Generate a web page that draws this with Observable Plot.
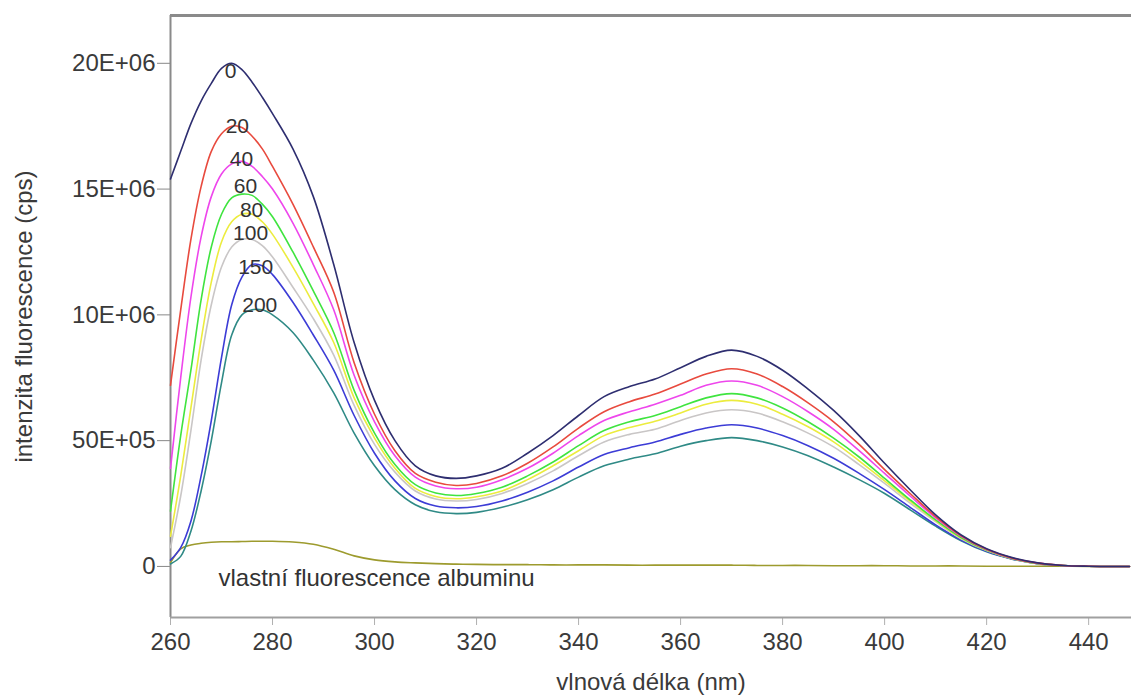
<!DOCTYPE html>
<html>
<head>
<meta charset="utf-8">
<script src="https://cdn.jsdelivr.net/npm/d3@7"></script>
<script src="https://cdn.jsdelivr.net/npm/@observablehq/plot@0.6"></script>
<style>
  html, body { margin: 0; padding: 0; background: #fff; }
</style>
</head>
<body>
<div id="chart"></div>
<script>
// wavelength (nm)
const wavelength = [260,262,264,266,268,270,272,274,276,278,280,
  284,288,292,296,300,304,308,312,316,
  320,325,330,335,340,345,350,355,360,365,370,375,380,385,390,395,400,405,410,415,420,425,430,435,440,
  448];

// intensities in units of 1E+06 cps
const s0 = [15.4,16.5,17.6,18.5,19.2,19.8,20.0,19.75,19.25,18.65,18.0,
  16.6,14.7,12.0,8.9,6.6,5.0,4.0,3.6,3.5,
  3.6,3.9,4.5,5.2,6.0,6.75,7.15,7.45,7.9,8.35,8.6,8.35,7.8,7.05,6.2,5.2,4.1,3.05,2.05,1.25,0.7,0.35,0.14,0.04,0.01,
  0];
const s20 = [7.2,10.2,13.0,15.1,16.5,17.2,17.5,17.45,17.1,16.6,15.9,
  14.4,12.7,10.9,8.1,6.05,4.6,3.7,3.35,3.22,
  3.3,3.6,4.1,4.75,5.5,6.15,6.55,6.85,7.25,7.65,7.86,7.65,7.15,6.5,5.75,4.85,3.85,2.9,1.98,1.22,0.68,0.33,0.13,0.04,0.01,
  0];
const s40 = [3.9,7.5,10.7,13.1,14.7,15.6,16.0,16.1,15.9,15.5,15.0,
  13.65,12.0,10.2,7.6,5.75,4.4,3.55,3.2,3.09,
  3.15,3.45,3.9,4.5,5.2,5.8,6.15,6.45,6.8,7.2,7.37,7.2,6.75,6.15,5.45,4.6,3.7,2.8,1.93,1.2,0.67,0.33,0.13,0.04,0.01,
  0];
const s60 = [2.2,5.2,7.8,10.6,12.7,14.0,14.65,14.8,14.75,14.4,13.9,
  12.5,10.95,9.3,7.0,5.3,4.05,3.25,2.92,2.82,
  2.9,3.15,3.6,4.15,4.8,5.4,5.75,6.0,6.35,6.7,6.87,6.7,6.3,5.75,5.1,4.35,3.5,2.65,1.85,1.15,0.65,0.32,0.12,0.04,0.01,
  0];
const s80 = [1.2,3.6,6.3,9.0,11.3,12.9,13.7,14.0,14.0,13.7,13.2,
  11.9,10.45,8.9,6.7,5.1,3.9,3.1,2.78,2.69,
  2.77,3.0,3.45,4.0,4.6,5.2,5.52,5.77,6.1,6.45,6.6,6.45,6.05,5.55,4.95,4.2,3.4,2.6,1.82,1.13,0.64,0.32,0.12,0.04,0.01,
  0];
const s100 = [0.75,2.8,5.4,8.2,10.4,11.9,12.7,13.0,13.0,12.75,12.3,
  11.1,9.85,8.4,6.4,4.85,3.75,3.0,2.68,2.6,
  2.66,2.9,3.3,3.8,4.4,4.95,5.25,5.45,5.8,6.1,6.23,6.1,5.75,5.3,4.75,4.05,3.3,2.52,1.78,1.1,0.63,0.31,0.12,0.04,0.01,
  0];
const s150 = [0.25,0.75,1.8,3.6,5.8,8.3,10.4,11.5,12.0,11.95,11.6,
  10.5,9.2,7.8,6.0,4.5,3.4,2.7,2.4,2.33,
  2.38,2.6,2.95,3.4,3.95,4.45,4.72,4.95,5.25,5.5,5.63,5.5,5.2,4.8,4.3,3.7,3.05,2.35,1.65,1.05,0.6,0.3,0.11,0.04,0.01,
  0];
const s200 = [0.1,0.4,1.4,3.0,5.0,7.3,9.2,10.0,10.2,10.2,10.0,
  9.3,8.2,6.9,5.3,4.0,3.05,2.45,2.17,2.1,
  2.15,2.35,2.65,3.05,3.55,4.0,4.27,4.48,4.78,5.0,5.12,5.0,4.75,4.4,3.95,3.45,2.9,2.25,1.6,1.02,0.58,0.29,0.11,0.04,0.01,
  0];
const albumin = [0.15,0.7,0.85,0.92,0.96,0.98,0.98,0.99,1.0,1.0,1.0,
  0.97,0.88,0.68,0.42,0.26,0.18,0.14,0.11,0.09,
  0.08,0.07,0.07,0.06,0.06,0.06,0.05,0.05,0.05,0.05,0.05,0.04,0.04,0.04,0.03,0.03,0.03,0.02,0.02,0.02,0.01,0.01,0.01,0.01,0.0,
  0];

const seriesNames = ["albumin","200","150","100","80","60","40","20","0"];
const seriesValues = [albumin, s200, s150, s100, s80, s60, s40, s20, s0];
const seriesColors = ["#9d9b2e","#2f8a86","#3c3cd6","#c9c6c6","#ecec3e","#3fe43f","#ee46ec","#e84a3e","#2e2e70"];

// curve labels (text, wavelength, intensity)
const labelText = ["0","20","40","60","80","100","150","200"];
const labelW = [271.8,273.1,273.9,274.7,275.9,275.7,276.7,277.5];
const labelV = [19.7,17.5,16.2,15.1,14.15,13.25,11.9,10.4];

const albuminLabel = "vlastní fluorescence albuminu";
const albuminLabelW = [269.4];
const albuminLabelV = [-0.48];

const xTicks = [260,280,300,320,340,360,380,400,420,440];
const yTicks = [0,5,10,15,20];
const yTickLabels = ["0","50E+05","10E+06","15E+06","20E+06"];

const xDomain = [260, 448.4];
const yDomain = [-2.03, 21.9];

const data = [];
seriesNames.forEach((name, i) => {
  wavelength.forEach((w, j) => data.push({series: name, w, v: seriesValues[i][j]}));
});
const labels = labelText.map((t, i) => ({t, w: labelW[i], v: labelV[i]}));

const chart = Plot.plot({
  width: 1131,
  height: 695,
  marginLeft: 170,
  marginRight: 0,
  marginTop: 15,
  marginBottom: 78,
  style: {fontFamily: "'Liberation Sans', Arial, sans-serif", fontSize: "24px", color: "#3a3a3a", background: "#fff"},
  x: {domain: xDomain},
  y: {domain: yDomain},
  color: {domain: seriesNames, range: seriesColors},
  marks: [
    Plot.axisX({ticks: xTicks, tickSize: 8, tickPadding: 7, stroke: "#b0b0b0", fill: "#3a3a3a", fontSize: 24,
      label: "vlnová délka (nm)", labelAnchor: "center", labelOffset: 72, labelArrow: "none"}),
    Plot.axisY({ticks: yTicks, tickFormat: d => yTickLabels[yTicks.indexOf(d)], tickSize: 13, tickPadding: 2,
      stroke: "#888", fill: "#3a3a3a", fontSize: 24,
      label: "intenzita fluorescence (cps)", labelAnchor: "center", labelOffset: 156, labelArrow: "none"}),
    Plot.ruleX([xDomain[0]], {stroke: "#8a8a8a", strokeWidth: 2}),
    Plot.ruleY([yDomain[1]], {stroke: "#8a8a8a", strokeWidth: 3}),
    Plot.ruleY([yDomain[0]], {stroke: "#a0a0a0", strokeWidth: 2}),
    Plot.line(data, {x: "w", y: "v", z: "series", stroke: "series", strokeWidth: 1.6, curve: "catmull-rom"}),
    Plot.text(labels, {x: "w", y: "v", text: "t", fill: "#333", fontSize: 21, textAnchor: "middle"}),
    Plot.text([albuminLabel], {x: albuminLabelW, y: albuminLabelV, text: d => d, fill: "#333", fontSize: 24, textAnchor: "start"})
  ]
});
document.getElementById("chart").appendChild(chart);
</script>
</body>
</html>
